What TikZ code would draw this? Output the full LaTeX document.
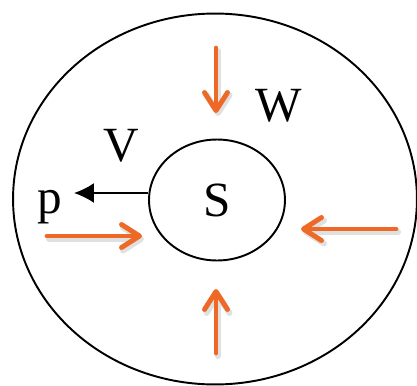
\documentclass[tikz,border=0pt]{standalone}
\usepackage{fontspec}
\setmainfont{Liberation Serif}
\usetikzlibrary{arrows.meta, shapes.geometric}
\definecolor{FlowOrange}{RGB}{238,104,38}

\begin{document}
\begin{tikzpicture}[x=0.02cm, y=-0.02cm, font=\fontsize{28}{28}\selectfont,
	bnd/.style={ellipse, draw=black, line width=1.1pt, inner sep=0pt},
	flow/.style={FlowOrange, line width=2.8pt, line cap=round,
		-{Straight Barb[length=3.6mm, width=4.6mm, line cap=round, line join=round]}},
	flowshade/.style={flow, black!12, line width=3.4pt, transform canvas={xshift=0.4mm, yshift=-0.6mm}}]
	\useasboundingbox (0,0) rectangle (417,386);
	% entorno y sistema
	\node[bnd, minimum width=8.08cm, minimum height=7.42cm] (wall) at (215,199) {};
	\node[bnd, minimum width=2.72cm, minimum height=2.42cm] (sys) at (217,200) {S};
	% etiquetas
	\node (lw) at (279,106) {W};
	\node (lv) at (121,146) {V};
	\node (lp) at (50,207) {p};
	% flujos hacia el sistema
	\coordinate (t0) at (216,48);  \coordinate (t1) at (216,113);
	\coordinate (b0) at (216,353); \coordinate (b1) at (216,289);
	\coordinate (r0) at (396,229); \coordinate (r1) at (301,229);
	\coordinate (l0) at (47,236);  \coordinate (l1) at (142,236);
	\foreach \a/\b in {t0/t1, b0/b1, r0/r1, l0/l1}
		{\draw[flowshade] (\a) -- (\b);
		 \draw[flow] (\a) -- (\b);}
	% presion
	\coordinate (pend) at (74,193);
	\draw[line width=1.1pt, -{Latex[length=4mm, width=4mm]}] (pend -| sys.west) -- (pend);
\end{tikzpicture}
\end{document}
